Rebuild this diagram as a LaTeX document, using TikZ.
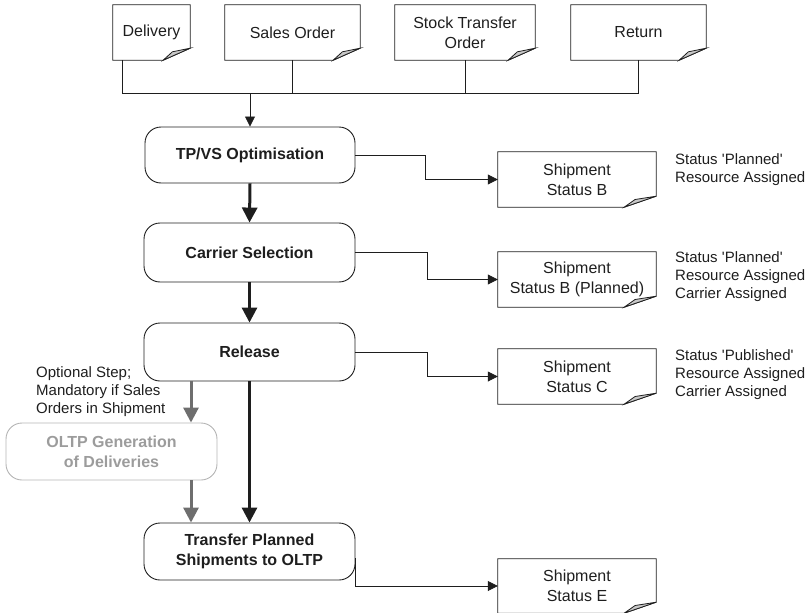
\documentclass[tikz,border=0pt]{standalone}
\usepackage{fontspec}
\setmainfont{Liberation Sans}
\usetikzlibrary{arrows.meta}
\definecolor{ink}{HTML}{1E1E1E}
\definecolor{foldgray}{HTML}{C8C8C8}
\definecolor{optline}{HTML}{B4B4B4}
\definecolor{opttext}{HTML}{9C9C9C}
\definecolor{optarrow}{HTML}{6E6E6E}
\tikzset{
  doc/.style={minimum height=55pt, inner sep=0pt, align=center,
    font=\fontsize{16}{20}\selectfont, text=ink},
  stepbox/.style={draw=ink, rounded corners=16pt, minimum width=211pt,
    inner sep=0pt, align=center, line width=0.9pt,
    font=\fontsize{16}{20}\selectfont\bfseries, text=ink},
  optbox/.style={stepbox, draw=optline, text=opttext},
  link/.style={draw=ink, line width=0.8pt},
  flow/.style={link, -{Triangle[length=10pt,width=10pt]}},
  mainflow/.style={draw=ink, line width=3pt, -{Triangle[length=15pt,width=15pt]}},
  optflow/.style={mainflow, draw=optarrow},
  note/.style={anchor=west, align=left, inner sep=0pt,
    font=\fontsize{15}{18}\selectfont, text=ink}
}
\newcommand\sq{\textquotesingle}
% document outline with a dog-eared lower right corner
\newcommand\docoutline[3]{%
  \draw[link] (#1.north west) -- (#1.north east) -- ([yshift=#3]#1.south east)
    -- ([xshift=-#2]#1.south east) -- (#1.south west) -- cycle;
  \draw[link, fill=foldgray] ([xshift=-#2]#1.south east) -- ([yshift=#3]#1.south east)
    -- ([xshift=-0.66*#2, yshift=0.7*#3]#1.south east) -- cycle;}
\begin{document}
\begin{tikzpicture}[x=1pt, y=-1pt]
\useasboundingbox (0,0) rectangle (812,613);

% source documents
\node[doc, minimum width=77pt]  (del) at (151.5,32.5) {Delivery};
\node[doc, minimum width=135pt] (so)  at (292.5,32.5) {Sales Order};
\node[doc, minimum width=140pt] (sto) at (465,32.5)   {Stock Transfer\\Order};
\node[doc, minimum width=135pt] (ret) at (638.5,32.5) {Return};
\foreach \d in {del,so,sto,ret} {\docoutline{\d}{27pt}{12pt}}

% process steps
\node[stepbox, minimum width=210pt, minimum height=56pt] (tpvs) at (250,155)   {TP/VS Optimisation};
\node[stepbox, minimum height=59pt] (car)  at (249.5,252.5) {Carrier Selection};
\node[stepbox, minimum height=58pt] (rel)  at (249.5,352)   {Release};
\node[optbox,  minimum height=57pt] (oltp) at (111.5,451.5) {OLTP Generation\\ of Deliveries};
\node[stepbox, minimum height=57pt] (tr)   at (249.5,551.5) {Transfer Planned\\Shipments to OLTP};

% shipment documents
\node[doc, minimum width=158pt] (shB)  at (577,179.5) {Shipment\\Status B};
\node[doc, minimum width=158pt] (shBP) at (577,279.5) {Shipment\\Status B (Planned)};
\node[doc, minimum width=158pt] (shC)  at (577,376.5) {Shipment\\Status C};
\node[doc, minimum width=158pt, minimum height=54pt] (shE) at (577,586) {Shipment\\Status E};
\foreach \d in {shB,shBP,shC,shE} {\docoutline{\d}{32pt}{11pt}}

% status notes
\node[note] (nB)  at (675,169.5) {Status \sq Planned\sq\\Resource Assigned};
\node[note] (nBP) at (675,277)   {Status \sq Planned\sq\\Resource Assigned\\Carrier Assigned};
\node[note] (nC)  at (675,375)   {Status \sq Published\sq\\Resource Assigned\\Carrier Assigned};
\node[note] (nopt) at (36,391.5) {Optional Step;\\Mandatory if Sales\\Orders in Shipment};

% collecting bus from the source documents
\coordinate (busy) at (0,93);
\coordinate (dtap) at ([xshift=10pt]del.south west);
\draw[link] (dtap) -- (dtap |- busy) -- (ret.south |- busy) -- (ret.south);
\draw[link] (so.south) -- (so.south |- busy);
\draw[link] (sto.south) -- (sto.south |- busy);
\draw[flow] (tpvs.north |- busy) -- (tpvs.north);

% main flow
\draw[mainflow] (tpvs.south) -- (car.north);
\draw[mainflow] (car.south) -- (rel.north);
\draw[mainflow] (rel.south) -- (tr.north);

% optional branch
\coordinate (gx) at ([xshift=79.5pt]oltp.north);
\draw[optflow] (gx |- rel.south) -- (gx);
\draw[optflow] (gx |- oltp.south) -- (gx |- tr.north);

% status outputs
\draw[flow] (tpvs.east) -- ++(70,0) |- (shB.west);
\draw[flow] (car.east) -- ++(72,0) |- (shBP.west);
\draw[flow] (rel.east) -- ++(72,0) |- (shC.west);
\coordinate (trout) at ([yshift=-6.5pt]tr.east);
\draw[flow] (trout) |- (shE.west);
\end{tikzpicture}
\end{document}
